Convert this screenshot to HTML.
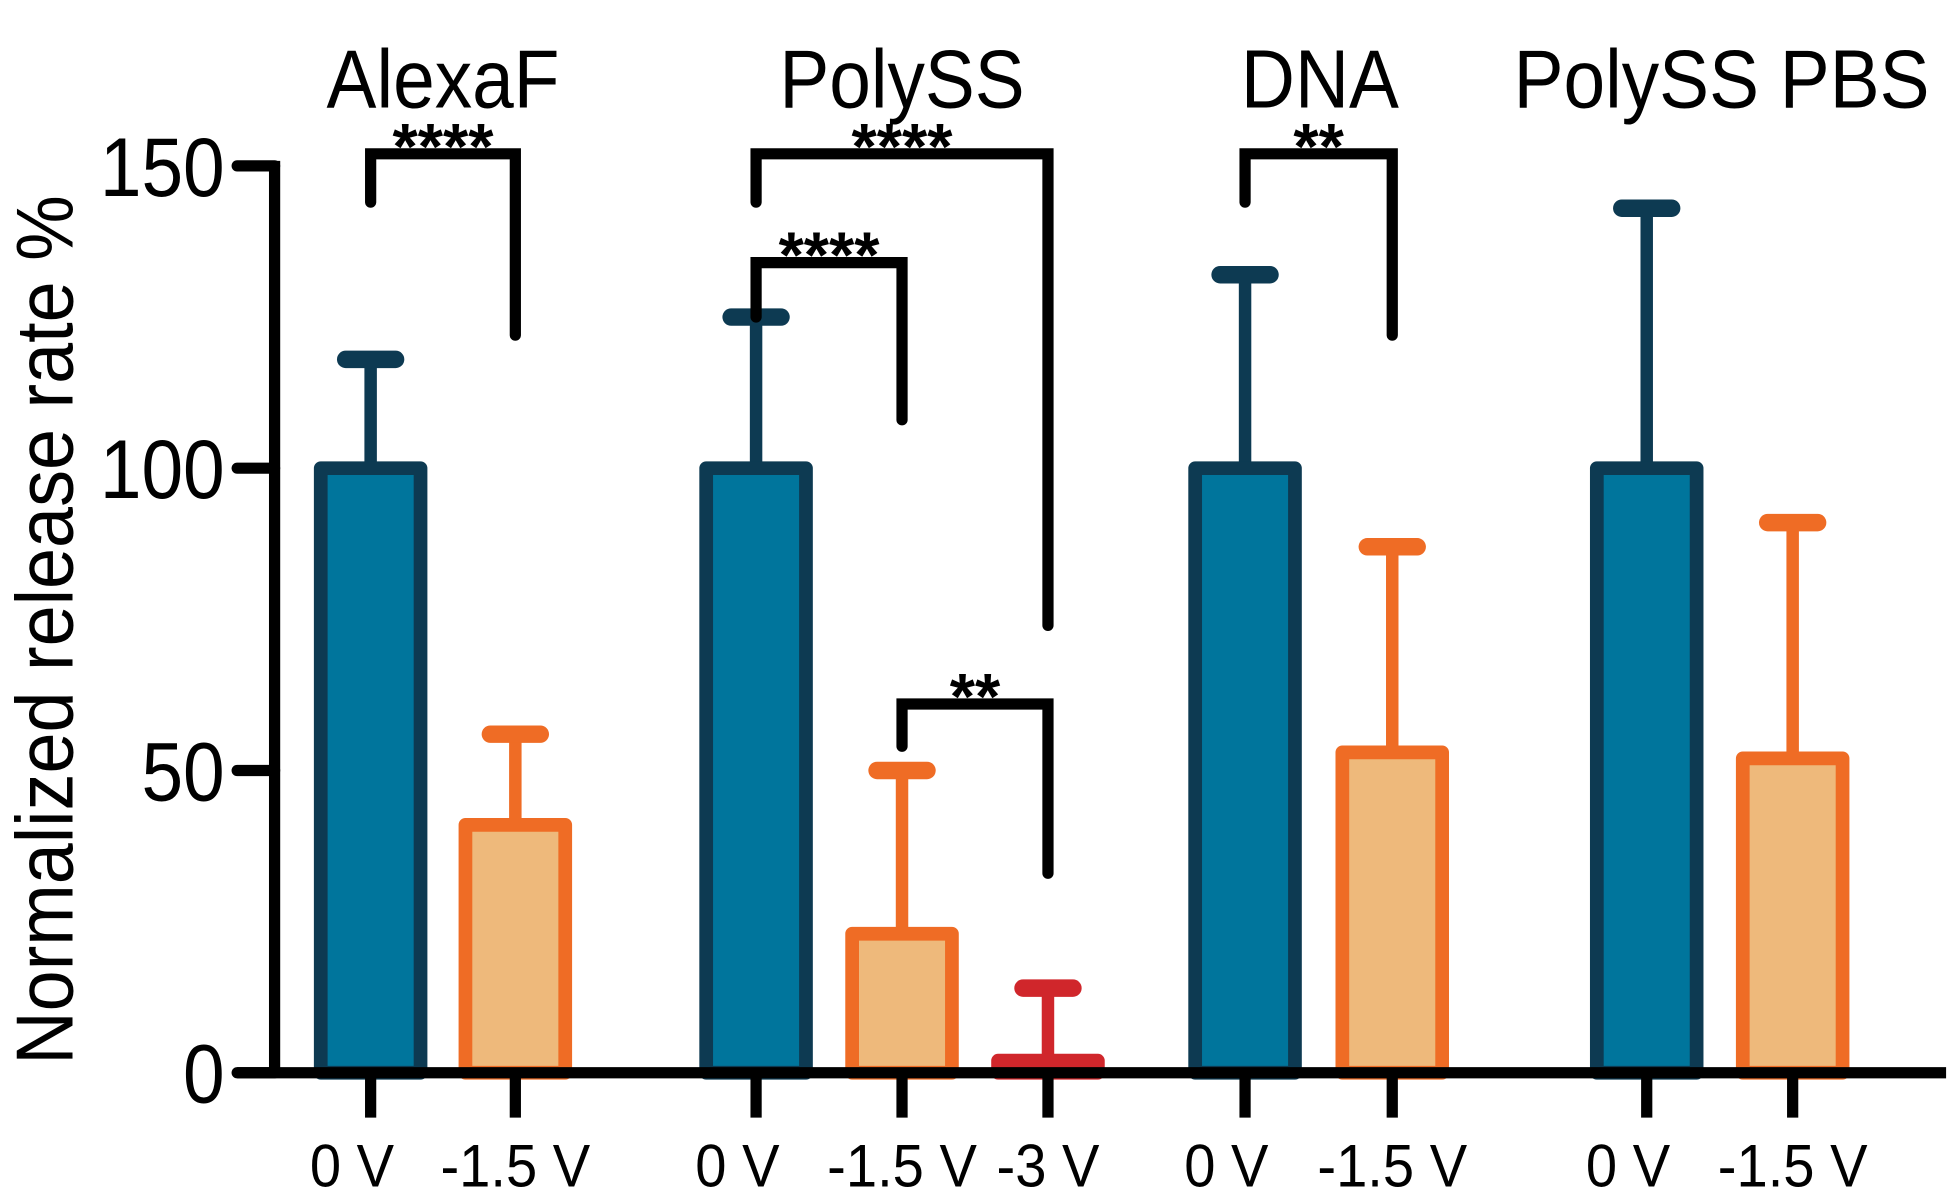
<!DOCTYPE html>
<html><head><meta charset="utf-8"><style>html,body{margin:0;padding:0;background:#fff}svg{display:block}text{font-family:"Liberation Sans",sans-serif}</style></head>
<body>
<svg id="chart" width="1950" height="1195" viewBox="0 0 1563 958" xmlns="http://www.w3.org/2000/svg"></svg>
<script>
const categories = ["AlexaF 0 V","AlexaF -1.5 V","PolySS 0 V","PolySS -1.5 V","PolySS -3 V","DNA 0 V","DNA -1.5 V","PBS 0 V","PBS -1.5 V"];
const tickLabels = ["0 V","-1.5 V","0 V","-1.5 V","-3 V","0 V","-1.5 V","0 V","-1.5 V"];
const meanValues = [100, 41, 100, 23, 2, 100, 53, 100, 52];
const errorTops = [118, 56, 125, 50, 14, 132, 87, 143, 91];
const seriesKind = ["blue","orange","blue","orange","red","blue","orange","blue","orange"];
const barCenters = [297, 413, 606, 723, 840, 998, 1116, 1320, 1437];
const yTicks = [0, 50, 100, 150];
const groupTitles = ["AlexaF","PolySS","DNA","PolySS PBS"];
const groupTitleX = [355, 723, 1058, 1380];
const brackets = [
 [0,1,152,144,122,"****"],
 [2,4,152,144,74,"****"],
 [2,3,134,125,108,"****"],
 [3,4,61,54,33,"**"],
 [5,6,152,144,122,"**"]
];
const NS="http://www.w3.org/2000/svg";
const svg=document.getElementById('chart');
const y0=860, yTop=133;
const y=v=>y0-(v/150)*(y0-yTop);
const col={blue:{s:"#0d3a52",f:"#00759c"},orange:{s:"#ef6c25",f:"#eeb97b"},red:{s:"#d0262b",f:"#d0262b"}};
function mk(t,a,p){const e=document.createElementNS(NS,t);for(const k in a)e.setAttribute(k,a[k]);(p||svg).appendChild(e);return e;}
const bw=80;
categories.forEach((c,i)=>{
  const cx=barCenters[i], k=col[seriesKind[i]];
  const eb=mk('line',{x1:cx,x2:cx,y1:y(meanValues[i]),y2:y(errorTops[i]),stroke:k.s,'stroke-width':10});
  
  
  const cap=mk('line',{x1:cx-20,x2:cx+20,y1:y(errorTops[i]),y2:y(errorTops[i]),stroke:k.s,'stroke-width':14,'stroke-linecap':'round'});
  
  
  const top=y(meanValues[i]);
  const r=mk('rect',{x:cx-bw/2,y:top,width:bw,height:Math.max(0,y0-top),fill:k.f,stroke:k.s,'stroke-width':11,'stroke-linejoin':'round'});
  
  
  const tk=mk('line',{x1:cx,x2:cx,y1:y0,y2:896,stroke:'#000','stroke-width':9});
  
  
  const off=tickLabels[i]==="0 V"?-15:0;
  const tl=mk('text',{x:0,y:0,'font-size':45,'text-anchor':'middle',transform:`translate(${cx+off},951) scale(1,1.08)`});
  tl.textContent=tickLabels[i];
  
  
});
const xa=mk('line',{x1:190,x2:1560,y1:y0,y2:y0,stroke:'#000','stroke-width':9});


const ya=mk('line',{x1:220,x2:220,y1:yTop-4,y2:y0+4,stroke:'#000','stroke-width':9});


yTicks.forEach(v=>{
  const t=mk('line',{x1:190,x2:220,y1:y(v),y2:y(v),stroke:'#000','stroke-width':9,'stroke-linecap':'round'});
  
  
  const l=mk('text',{x:0,y:0,'font-size':60,'text-anchor':'end',transform:`translate(180,${y(v)+24}) scale(1,1.12)`});
  l.textContent=v;
  
  
});
const yt=mk('text',{x:0,y:0,'font-size':58,'text-anchor':'middle',transform:'translate(58,505) rotate(-90) scale(1.02,1.12)'});
yt.textContent='Normalized release rate %';


groupTitles.forEach((g,i)=>{
  const t=mk('text',{x:0,y:0,'font-size':60,'text-anchor':'middle',transform:`translate(${groupTitleX[i]},86) scale(1,1.1)`});
  t.textContent=g;
  
  
});
brackets.forEach((b,i)=>{
  const x1=barCenters[b[0]], x2=barCenters[b[1]], yb=y(b[2]);
  const p=mk('path',{d:`M${x1},${y(b[3])} L${x1},${yb} L${x2},${yb} L${x2},${y(b[4])}`,fill:'none',stroke:'#000','stroke-width':9,'stroke-linecap':'round'});
  
  
  const t=mk('text',{x:(x1+x2)/2,y:yb+12,'font-size':52,'font-weight':'bold','text-anchor':'middle'});
  t.textContent=b[5];
  
  
});
</script>
</body></html>
